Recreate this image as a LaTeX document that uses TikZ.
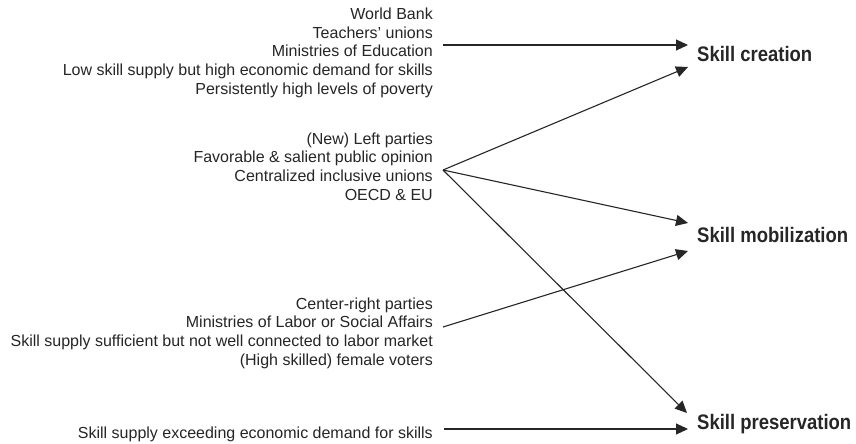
\documentclass[tikz,border=0pt]{standalone}
\usepackage{fontspec}
\setmainfont{Liberation Sans}
\newfontfamily\labfont[FakeStretch=0.88]{Liberation Sans Bold}
\usetikzlibrary{arrows.meta}
\begin{document}
\begin{tikzpicture}[x=1pt,y=-1pt,
  factors/.style={anchor=base east,align=right,inner sep=0pt,
    font=\fontsize{16}{18.6}\selectfont,text=black!85},
  outcome/.style={anchor=base west,inner sep=0pt,
    font=\labfont\fontsize{21}{24}\selectfont,text=black!85},
  link/.style={line width=1.1pt,draw=black!85,
    -{Triangle[length=12pt,width=11pt]}}]
\fill[white] (0,0) rectangle (856,444);
\useasboundingbox (0,0) rectangle (856,444);
% factor groups (anchored at the baseline of their last line)
\node[factors] (g1) at (433,94) {World Bank\\Teachers' unions\\Ministries of Education\\Low skill supply but high economic demand for skills\\Persistently high levels of poverty};
\node[factors] (g2) at (433,200) {(New) Left parties\\Favorable \& salient public opinion\\Centralized inclusive unions\\OECD \& EU};
\node[factors] (g3) at (433,365) {Center-right parties\\Ministries of Labor or Social Affairs\\Skill supply sufficient but not well connected to labor market\\(High skilled) female voters};
\node[factors] (g4) at (433,438) {Skill supply exceeding economic demand for skills};
% outcomes
\node[outcome] (oc) at (697,62) {Skill creation};
\node[outcome] (om) at (697,242) {Skill mobilization};
\node[outcome] (op) at (697,429) {Skill preservation};
% connector ends
\coordinate (s1) at (443,45);
\coordinate (s2) at (443,170);
\coordinate (s3) at (443,327);
\coordinate (s4) at (444,429);
\coordinate (tc1) at (688,45);
\coordinate (tc2) at (688,67);
\coordinate (tm1) at (688,223);
\coordinate (tm2) at (688,251);
\coordinate (tp1) at (687,413);
\coordinate (tp2) at (688,429);
\draw[link] (s1) -- (tc1);
\draw[link] (s2) -- (tc2);
\draw[link] (s2) -- (tm1);
\draw[link] (s2) -- (tp1);
\draw[link] (s3) -- (tm2);
\draw[link] (s4) -- (tp2);
\end{tikzpicture}
\end{document}
